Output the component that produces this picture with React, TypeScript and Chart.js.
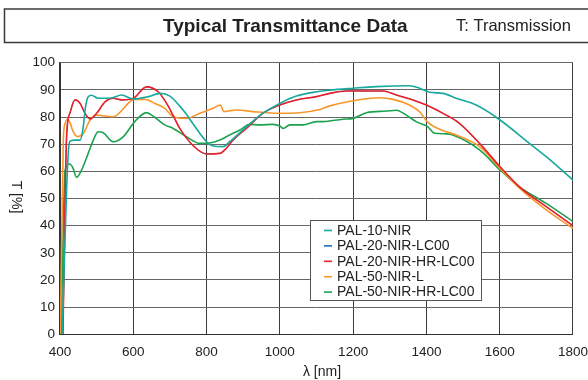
import React, { useEffect, useRef } from "react";
import { Chart, registerables } from "chart.js";

Chart.register(...registerables);

const FONT = "'Liberation Sans', Arial, Helvetica, sans-serif";

const titleText = "Typical Transmittance Data";
const subtitleText = "T: Transmission";
const xTitle = "λ [nm]";
const yTitle = "T [%]";

const seriesNames = [
  "PAL-10-NIR",
  "PAL-20-NIR-LC00",
  "PAL-20-NIR-HR-LC00",
  "PAL-50-NIR-L",
  "PAL-50-NIR-HR-LC00",
];
const seriesColors = ["#17a89e", "#1f6db5", "#e8202a", "#f7962a", "#1ca24f"];
const seriesWidths = [1.6, 0.8, 1.6, 1.6, 1.6];

const tealWl = [406, 421, 427, 440, 455, 462, 470, 477, 486, 504, 540, 568, 600, 641, 672, 699, 727, 745, 763, 800, 818, 845, 863, 909, 954, 1000, 1045, 1100, 1136, 1200, 1263, 1354, 1381, 1409, 1445, 1481, 1536, 1601, 1681, 1727, 1800];
const tealT = [0, 63, 71, 71.5, 71.5, 75, 84, 87.5, 88, 86.9, 87, 88.1, 86.6, 87.5, 88.7, 87.8, 84, 81, 77.5, 70.9, 69.3, 69.1, 70.9, 76.4, 81.4, 85, 87.7, 89.3, 89.9, 90.6, 91.2, 91.5, 90.6, 89.1, 88.7, 86.9, 84.4, 78.9, 70.3, 65.4, 56.8];

const redWl = [408, 418, 427, 441, 455, 468, 482, 500, 523, 545, 568, 600, 636, 668, 691, 709, 727, 763, 800, 836, 854, 872, 909, 954, 1000, 1045, 1100, 1136, 1182, 1281, 1318, 1363, 1400, 1454, 1490, 1545, 1601, 1654, 1727, 1800];
const redT = [0, 72.8, 81.4, 86.3, 85, 81.4, 79.3, 81.4, 85.6, 86.9, 86.3, 86.9, 91.1, 89.3, 85, 80.5, 75.8, 69.5, 66.4, 66.6, 68.5, 71.5, 75.8, 81.4, 84.4, 86.3, 87.5, 88.7, 89.6, 89.6, 88.1, 86.3, 84.4, 80.7, 77.7, 70.3, 61.7, 54.3, 47, 40];

const blueWl = [408, 418, 427, 441, 455, 468, 482, 500, 523, 545, 568, 600, 636, 668, 691, 709, 727, 763, 800, 836, 854, 872, 909, 954, 1000, 1045, 1100, 1136, 1182, 1281, 1318, 1363, 1400, 1454, 1490, 1545, 1601, 1654, 1727, 1800];
const blueT = [0, 72.8, 81.4, 86.3, 85, 81.4, 79.3, 81.4, 85.6, 86.9, 86.3, 86.9, 91.1, 89.3, 85, 80.5, 75.8, 69.5, 66.4, 66.6, 68.5, 71.5, 75.8, 81.4, 84.4, 86.3, 87.5, 88.7, 89.6, 89.6, 88.1, 86.3, 84.4, 80.7, 77.7, 70.3, 61.7, 54.3, 47, 40];

const orangeWl = [401, 409, 414, 421, 427, 436, 448, 464, 482, 500, 545, 604, 632, 659, 686, 709, 745, 782, 818, 838, 847, 859, 882, 927, 1000, 1054, 1109, 1136, 1200, 1272, 1309, 1354, 1381, 1402, 1422, 1454, 1481, 1545, 1601, 1654, 1727, 1800];
const orangeT = [0, 71.5, 77.7, 79.2, 78, 74.6, 72.8, 74, 78.9, 80.7, 80.1, 86.5, 86.5, 85, 83.2, 80.1, 79.5, 81.4, 83.2, 84.4, 82, 82.2, 82.6, 82, 81.4, 81.6, 82.8, 84.1, 86, 87.1, 86.5, 84.4, 82, 78.3, 76.4, 74.6, 73.4, 69.1, 61.1, 53.8, 45.8, 39];

const greenWl = [403, 414, 427, 436, 445, 459, 477, 495, 504, 518, 545, 573, 604, 636, 650, 686, 709, 745, 782, 800, 836, 863, 891, 918, 945, 981, 1000, 1009, 1027, 1063, 1100, 1118, 1172, 1200, 1236, 1291, 1318, 1345, 1372, 1404, 1422, 1454, 1472, 1545, 1601, 1654, 1727, 1800];
const greenT = [0, 60.5, 62.7, 61, 57.8, 60.5, 66.6, 72.8, 74.6, 74.2, 70.9, 72.8, 78.3, 81.6, 80.7, 77.1, 75.8, 72.8, 70.3, 70.3, 71.5, 73.4, 75.2, 77.3, 77.1, 77.3, 76.7, 75.8, 77.1, 77.1, 78.3, 78.3, 79.2, 79.5, 81.6, 82.2, 82.5, 80.7, 78.3, 76.4, 74, 73.8, 73.4, 67.9, 60.5, 54.3, 48.2, 41.5];

const xTicks = [400, 600, 800, 1000, 1200, 1400, 1600, 1800];
const yTicks = [0, 10, 20, 30, 40, 50, 60, 70, 80, 90, 100];

const toPoints = (wl: number[], t: number[]) => wl.map((x, i) => ({ x, y: t[i] }));

const decorPlugin = {
  id: "decor",
  afterDraw(chart: any) {
    const ctx = chart.ctx;
    ctx.save();
    // title box
    ctx.strokeStyle = "#3a3a3a";
    ctx.lineWidth = 1.5;
    ctx.strokeRect(4.5, 9, 620, 33.5);
    ctx.fillStyle = "#222";
    ctx.textBaseline = "middle";
    ctx.textAlign = "left";
    ctx.font = `bold 19px ${FONT}`;
    ctx.fillText(titleText, 163, 26.5);
    ctx.font = `16.5px ${FONT}`;
    ctx.fillText(subtitleText, 456, 26.5);

    // x title
    ctx.font = `14px ${FONT}`;
    ctx.textAlign = "center";
    ctx.fillText(xTitle, 322, 372);

    // y title rotated clockwise
    ctx.save();
    ctx.translate(16, 197);
    ctx.rotate(Math.PI / 2);
    ctx.fillText(yTitle, 0, 0);
    ctx.restore();

    // legend
    const lx = 310.5, ly = 220.5, lw = 171, lh = 80;
    ctx.fillStyle = "#ffffff";
    ctx.fillRect(lx, ly, lw, lh);
    ctx.strokeStyle = "#555";
    ctx.lineWidth = 1;
    ctx.strokeRect(lx, ly, lw, lh);
    ctx.font = `14px ${FONT}`;
    ctx.textAlign = "left";
    chart.data.datasets.forEach((ds: any, i: number) => {
      const y = 230.5 + i * 15.4;
      ctx.strokeStyle = ds.borderColor;
      ctx.lineWidth = 1.6;
      ctx.beginPath();
      ctx.moveTo(324, y);
      ctx.lineTo(332, y);
      ctx.stroke();
      ctx.fillStyle = "#222";
      ctx.fillText(ds.label, 337, y + 0.5);
    });
    ctx.restore();
  },
};

export default function App() {
  const ref = useRef<HTMLCanvasElement>(null);
  useEffect(() => {
    if (!ref.current) return;
    const sets = [
      { wl: tealWl, t: tealT, order: 1 },
      { wl: blueWl, t: blueT, order: 9 },
      { wl: redWl, t: redT, order: 2 },
      { wl: orangeWl, t: orangeT, order: 3 },
      { wl: greenWl, t: greenT, order: 4 },
    ];
    const chart = new Chart(ref.current, {
      type: "line",
      data: {
        datasets: sets.map((s, i) => ({
          label: seriesNames[i],
          data: toPoints(s.wl, s.t),
          borderColor: seriesColors[i],
          backgroundColor: seriesColors[i],
          borderWidth: seriesWidths[i],
          pointRadius: 0,
          fill: false,
          cubicInterpolationMode: "monotone" as const,
          order: s.order,
        })),
      },
      options: {
        responsive: false,
        animation: false,
        layout: { padding: { left: 0, right: 14.5, top: 62.7, bottom: 0 } },
        plugins: { legend: { display: false }, tooltip: { enabled: false }, title: { display: false } },
        scales: {
          x: {
            type: "linear",
            min: 400,
            max: 1800,
            afterBuildTicks: (scale: any) => {
              scale.ticks = xTicks.map((v) => ({ value: v }));
            },
            afterFit: (scale: any) => {
              scale.height = 45.7;
            },
            ticks: {
              font: { family: FONT, size: 13.5 },
              color: "#222",
              padding: 0,
              maxRotation: 0,
              callback: (v: any) => String(v),
            },
            grid: {
              color: "#3c3c3c",
              lineWidth: 1,
              drawTicks: true,
              tickLength: 10,
              tickColor: "rgba(0,0,0,0)",
            },
            border: { display: true, color: "#333", width: 1 },
          },
          y: {
            min: 0,
            max: 100,
            afterBuildTicks: (scale: any) => {
              scale.ticks = yTicks.map((v) => ({ value: v }));
            },
            afterFit: (scale: any) => {
              scale.width = 60;
            },
            ticks: {
              font: { family: FONT, size: 13.5 },
              color: "#222",
              padding: 5,
              callback: (v: any) => String(v),
            },
            grid: { color: "#666", lineWidth: 1, drawTicks: false },
            border: { display: true, color: "#333", width: 1.5 },
          },
        },
      },
      plugins: [decorPlugin],
    });
    return () => chart.destroy();
  }, []);
  return (
    <div style={{ position: "fixed", left: 0, top: 0, width: 588, height: 380, background: "#fff" }}>
      <canvas ref={ref} width={588} height={380} style={{ display: "block", width: 588, height: 380 }} />
    </div>
  );
}
